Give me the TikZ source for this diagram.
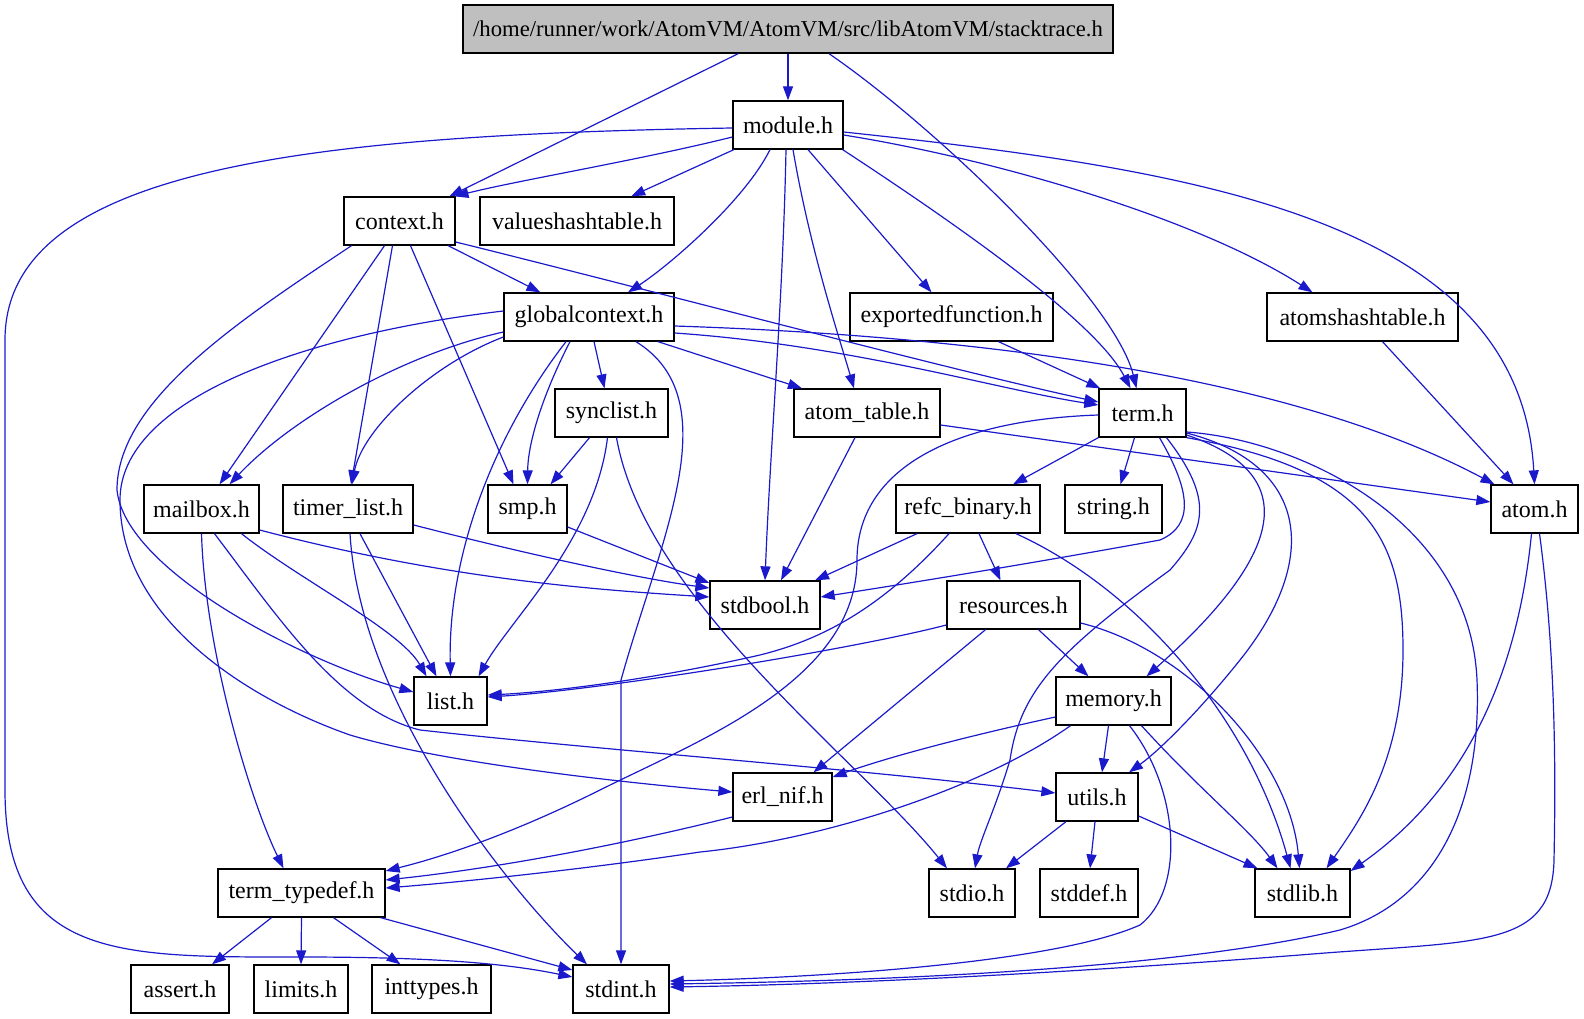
\documentclass[tikz,border=0pt]{standalone}
\usepackage{fontspec}
\setmainfont{Liberation Serif}
\usetikzlibrary{arrows.meta}
\definecolor{edgeblue}{RGB}{26,26,204}
\definecolor{titlegray}{RGB}{191,191,191}
\begin{document}
\begin{tikzpicture}[x=1pt,y=-1pt,
  box/.style={draw=black, line width=1.3pt, fill=white, minimum height=48pt, inner sep=0pt, font=\fontsize{24}{28}\selectfont},
  e/.style={draw=edgeblue, line width=1.2pt, -{Triangle[length=14pt,width=10pt]}}]
\useasboundingbox (0,0) rectangle (1584,1019);
% nodes
\node[box, fill=titlegray, minimum width=650pt, font=\fontsize{22.7}{27}\selectfont] (title) at (788,29) {/home/runner/work/AtomVM/AtomVM/src/libAtomVM/stacktrace.h};
\node[box, minimum width=110pt] (module) at (788,125) {module.h};
\node[box, minimum width=111pt] (context) at (399.5,221) {context.h};
\node[box, minimum width=194pt] (valueshashtable) at (577,221) {valueshashtable.h};
\node[box, minimum width=170pt] (globalcontext) at (589,317) {globalcontext.h};
\node[box, minimum width=203pt] (exportedfunction) at (951.5,317) {exportedfunction.h};
\node[box, minimum width=191pt] (atomshashtable) at (1362.5,317) {atomshashtable.h};
\node[box, minimum width=113pt] (synclist) at (611.5,413) {synclist.h};
\node[box, minimum width=146pt] (atom_table) at (867,413) {atom\_table.h};
\node[box, minimum width=87pt] (term) at (1142.5,413) {term.h};
\node[box, minimum width=115pt] (mailbox) at (201.5,509) {mailbox.h};
\node[box, minimum width=130pt] (timer_list) at (348,509) {timer\_list.h};
\node[box, minimum width=79pt] (smp) at (527.5,509) {smp.h};
\node[box, minimum width=144pt] (refc_binary) at (968,509) {refc\_binary.h};
\node[box, minimum width=97pt] (string) at (1113.5,509) {string.h};
\node[box, minimum width=87pt] (atom) at (1534.5,509) {atom.h};
\node[box, minimum width=110pt] (stdbool) at (765,605) {stdbool.h};
\node[box, minimum width=133pt] (resources) at (1013.5,605) {resources.h};
\node[box, minimum width=73pt] (list) at (450.5,701) {list.h};
\node[box, minimum width=115pt] (memory) at (1113.5,701) {memory.h};
\node[box, minimum width=99pt] (erl_nif) at (782.5,797) {erl\_nif.h};
\node[box, minimum width=82pt] (utils) at (1097,797) {utils.h};
\node[box, minimum width=167pt] (term_typedef) at (301.5,893) {term\_typedef.h};
\node[box, minimum width=86pt] (stdio) at (972,893) {stdio.h};
\node[box, minimum width=98pt] (stddef) at (1089,893) {stddef.h};
\node[box, minimum width=95pt] (stdlib) at (1302.5,893) {stdlib.h};
\node[box, minimum width=98pt] (assert) at (180,989) {assert.h};
\node[box, minimum width=94pt] (limits) at (301,989) {limits.h};
\node[box, minimum width=119pt] (inttypes) at (431.5,989) {inttypes.h};
\node[box, minimum width=96pt] (stdint) at (621,989) {stdint.h};
% title
\draw[e] (title) -- (module);
\draw[e] (title) -- (context);
\draw[e] ([xshift=41pt]title.south) .. controls (940,130) and (1115,300) .. ([xshift=-6pt]term.north);
% module
\draw[e] ([yshift=-12pt]module.west) .. controls (640,160) and (520,180) .. ([xshift=55pt]context.north);
\draw[e] (module) -- (valueshashtable);
\draw[e] ([xshift=-18pt]module.south) .. controls (745,200) and (670,265) .. ([xshift=39pt]globalcontext.north);
\draw[e] ([xshift=-2pt]module.south) .. controls (783,300) and (770,450) .. (stdbool.north);
\draw[e] ([xshift=5pt]module.south) .. controls (810,250) and (840,340) .. ([xshift=-13pt]atom_table.north);
\draw[e] ([xshift=20pt]module.south) -- ([xshift=-20pt]exportedfunction.north);
\draw[e] ([xshift=-1pt]module.south east) .. controls (950,220) and (1095,320) .. ([xshift=-12pt]term.north);
\draw[e] ([yshift=-10pt]module.east) .. controls (1000,160) and (1200,220) .. ([xshift=-50pt]atomshashtable.north);
\draw[e] ([yshift=-7pt]module.east) .. controls (1200,170) and (1520,220) .. (atom.north);
\draw[e] ([yshift=-3pt]module.west) .. controls (300,135) and (5,170) .. (5,340) -- (5,790) .. controls (5,960) and (120,957) .. (300,957) .. controls (420,957) and (500,962) .. ([yshift=12pt]stdint.west);
% context
\draw[e] (context) -- (globalcontext);
\draw[e] ([yshift=-21pt]context.east) .. controls (650,290) and (950,370) .. ([yshift=11pt]term.west);
\draw[e] ([xshift=-15pt]context.south) -- ([xshift=18pt]mailbox.north);
\draw[e] ([xshift=-7pt]context.south) -- ([xshift=3pt]timer_list.north);
\draw[e] ([xshift=11pt]context.south) -- ([xshift=-14pt]smp.north);
\draw[e] ([xshift=-48pt]context.south) .. controls (240,320) and (117,400) .. (117,490) .. controls (125,570) and (300,660) .. ([yshift=9pt]list.west);
% globalcontext
\draw[e] ([yshift=-16pt]globalcontext.east) .. controls (850,345) and (1000,390) .. ([yshift=8pt]term.west);
\draw[e] ([yshift=-9pt]globalcontext.east) .. controls (950,335) and (1280,370) .. ([xshift=-40pt]atom.north);
\draw[e] ([xshift=69pt]globalcontext.south) -- ([xshift=-65pt]atom_table.north);
\draw[e] ([xshift=5pt]globalcontext.south) -- ([xshift=-7pt]synclist.north);
\draw[e] ([xshift=-19pt]globalcontext.south) .. controls (545,390) and (528,440) .. (smp.north);
\draw[e] ([xshift=-23pt]globalcontext.south) .. controls (490,440) and (448,560) .. (list.north);
\draw[e] ([xshift=47pt]globalcontext.south) .. controls (730,400) and (660,540) .. (621,680) -- (stdint.north);
\draw[e] ([yshift=-20pt]globalcontext.west) .. controls (430,365) and (362,430) .. ([xshift=4pt]timer_list.north);
\draw[e] ([yshift=-15pt]globalcontext.west) .. controls (400,355) and (290,420) .. ([xshift=28pt]mailbox.north);
\draw[e] ([yshift=6pt]globalcontext.west) .. controls (300,335) and (120,400) .. (120,500) .. controls (120,620) and (250,700) .. (350,735) .. controls (450,765) and (650,785) .. ([yshift=5pt]erl_nif.west);
% synclist
\draw[e] ([xshift=-22pt]synclist.south) -- ([xshift=23pt]smp.north);
\draw[e] ([xshift=-4pt]synclist.south) .. controls (595,540) and (510,620) .. ([xshift=28pt]list.north);
\draw[e] ([xshift=5pt]synclist.south) .. controls (645,600) and (860,760) .. ([xshift=-25pt]stdio.north);
% mailbox, timer_list, smp
\draw[e] ([xshift=13pt]mailbox.south) .. controls (280,620) and (340,710) .. (420,730) .. controls (600,750) and (850,768) .. ([yshift=4pt]utils.west);
\draw[e] (mailbox.south) .. controls (205,650) and (250,800) .. ([xshift=-18pt]term_typedef.north);
\draw[e] ([xshift=40pt]mailbox.south) .. controls (300,580) and (400,630) .. ([xshift=-24pt]list.north);
\draw[e] ([yshift=-21pt]mailbox.east) .. controls (450,580) and (600,590) .. ([yshift=8pt]stdbool.west);
\draw[e] ([yshift=-16pt]timer_list.east) .. controls (550,560) and (650,580) .. ([yshift=17pt]stdbool.west);
\draw[e] ([xshift=12pt]timer_list.south) -- ([xshift=-14pt]list.north);
\draw[e] ([xshift=2pt]timer_list.south) .. controls (360,700) and (500,880) .. ([xshift=-34pt]stdint.north);
\draw[e] ([yshift=-18pt]smp.east) -- ([yshift=22pt]stdbool.west);
% atom_table, exportedfunction, atomshashtable
\draw[e] ([xshift=-12pt]atom_table.south) -- ([xshift=16pt]stdbool.north);
\draw[e] ([yshift=-12pt]atom_table.east) -- ([yshift=7pt]atom.west);
\draw[e] ([xshift=47pt]exportedfunction.south) -- ([xshift=2pt]term.north west);
\draw[e] ([xshift=20pt]atomshashtable.south) -- ([xshift=-21pt]atom.north);
% term
\draw[e] ([yshift=-2pt]term.west) .. controls (950,420) and (857,470) .. (857,560) .. controls (857,680) and (700,740) .. (600,790) .. controls (520,830) and (450,855) .. ([yshift=22pt]term_typedef.east);
\draw[e] (term.south west) -- ([xshift=45pt]refc_binary.north);
\draw[e] ([xshift=-8pt]term.south) -- ([xshift=7pt]string.north);
\draw[e] ([xshift=17pt]term.south) .. controls (1190,490) and (1195,525) .. (1160,540) .. controls (1050,560) and (930,580) .. ([yshift=8pt]stdbool.east);
\draw[e] ([xshift=24pt]term.south) .. controls (1215,500) and (1205,530) .. (1170,570) .. controls (1060,650) and (1020,690) .. (1010,760) .. controls (995,810) and (980,840) .. ([xshift=3pt]stdio.north);
\draw[e] ([yshift=-22pt]term.east) .. controls (1290,470) and (1300,540) .. ([xshift=33pt]memory.north);
\draw[e] ([yshift=-20pt]term.east) .. controls (1310,465) and (1320,560) .. (1240,660) .. controls (1200,710) and (1160,750) .. ([xshift=32pt]utils.north);
\draw[e] (term.south east) .. controls (1370,470) and (1403,540) .. (1403,650) .. controls (1403,760) and (1360,820) .. ([xshift=24pt]stdlib.north);
\draw[e] ([yshift=-19pt]term.east) .. controls (1300,440) and (1470,520) .. (1477,680) .. controls (1482,800) and (1440,900) .. (1340,930) .. controls (1150,975) and (800,982) .. ([yshift=5pt]stdint.east);
% atom
\draw[e] ([xshift=-3pt]atom.south) .. controls (1520,650) and (1480,780) .. ([yshift=22pt]stdlib.east);
\draw[e] ([xshift=5pt]atom.south) .. controls (1555,650) and (1556,760) .. (1554,860) .. controls (1552,950) and (1480,940) .. (1300,955) .. controls (1000,978) and (800,985) .. ([yshift=2pt]stdint.east);
% refc_binary
\draw[e] ([xshift=-51pt]refc_binary.south) -- ([xshift=50pt]stdbool.north);
\draw[e] ([xshift=11pt]refc_binary.south) -- ([xshift=-13pt]resources.north);
\draw[e] ([xshift=-19pt]refc_binary.south) .. controls (880,610) and (820,640) .. (760,655) .. controls (650,680) and (550,692) .. ([yshift=6pt]list.east);
\draw[e] ([xshift=48pt]refc_binary.south) .. controls (1140,590) and (1250,720) .. ([xshift=-12pt]stdlib.north);
% resources
\draw[e] ([yshift=-20pt]resources.west) .. controls (850,650) and (600,690) .. ([yshift=4pt]list.east);
\draw[e] ([xshift=-28pt]resources.south) -- ([xshift=31pt]erl_nif.north);
\draw[e] ([xshift=25pt]resources.south) -- ([xshift=-25pt]memory.north);
\draw[e] ([yshift=-18pt]resources.east) .. controls (1190,650) and (1290,760) .. ([xshift=-3pt]stdlib.north);
% memory
\draw[e] ([yshift=-16pt]memory.west) .. controls (950,740) and (880,760) .. ([yshift=20pt]erl_nif.east);
\draw[e] ([xshift=-43pt]memory.south) .. controls (980,790) and (820,840) .. (700,852) .. controls (580,870) and (460,882) .. ([yshift=5pt]term_typedef.east);
\draw[e] ([xshift=-5pt]memory.south) -- ([xshift=5pt]utils.north);
\draw[e] ([xshift=16pt]memory.south) .. controls (1180,790) and (1185,890) .. (1140,925) .. controls (1050,965) and (800,978) .. ([yshift=8pt]stdint.east);
\draw[e] ([xshift=28pt]memory.south) .. controls (1200,790) and (1250,830) .. ([xshift=-25pt]stdlib.north);
% utils
\draw[e] ([xshift=-31pt]utils.south) -- ([xshift=34pt]stdio.north);
\draw[e] ([xshift=-2pt]utils.south) -- ([xshift=1pt]stddef.north);
\draw[e] ([yshift=-19pt]utils.east) -- ([xshift=-45pt]stdlib.north);
% erl_nif
\draw[e] ([yshift=-20pt]erl_nif.west) .. controls (600,850) and (480,870) .. ([yshift=13pt]term_typedef.east);
% term_typedef
\draw[e] ([xshift=-30pt]term_typedef.south) -- ([xshift=32pt]assert.north);
\draw[e] (term_typedef.south) -- (limits.north);
\draw[e] ([xshift=32pt]term_typedef.south) -- ([xshift=-31pt]inttypes.north);
\draw[e] ([xshift=-5pt]term_typedef.south east) -- ([yshift=19pt]stdint.west);
\end{tikzpicture}
\end{document}
